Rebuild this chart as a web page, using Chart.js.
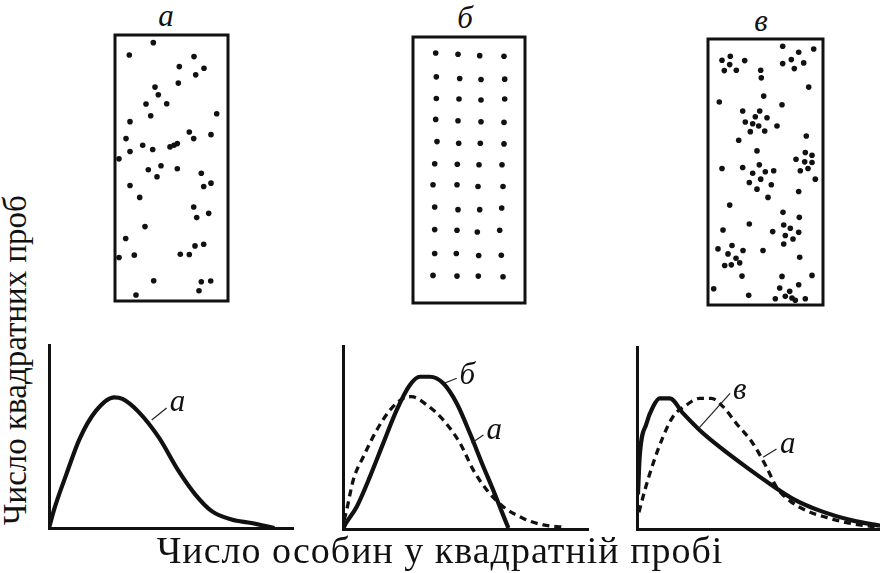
<!DOCTYPE html>
<html>
<head>
<meta charset="utf-8">
<script src="https://cdn.jsdelivr.net/npm/chart.js@4.4.1/dist/chart.umd.min.js"></script>
<style>
    html, body { margin: 0; padding: 0; background: #fff; overflow: hidden; }
    body { width: 880px; height: 573px; position: relative; font-family: "Liberation Serif", "DejaVu Serif", serif; color: #111; }
    .box { position: absolute; }
    .letter { position: absolute; font-style: italic; font-size: 31px; line-height: 1; transform: translateX(-50%); }
    .y-title { position: absolute; left: 15px; top: 360px; font-size: 33px; line-height: 1; white-space: nowrap; transform: translate(-50%, -50%) rotate(-90deg); }
    .x-title { position: absolute; left: 440px; top: 531px; font-size: 38px; letter-spacing: 1px; line-height: 1; white-space: nowrap; transform: translateX(-50%); }
</style>
</head>
<body>

<div class="letter" style="left:166px; top:0px;">а</div>
<div class="letter" style="left:465px; top:2px;">б</div>
<div class="letter" style="left:761px; top:5px;">в</div>

<div class="box" style="left:110px; top:30px; width:123px; height:276px;"><canvas id="plotA"></canvas></div>
<div class="box" style="left:408px; top:32px; width:122px; height:276px;"><canvas id="plotB"></canvas></div>
<div class="box" style="left:703px; top:34px; width:125px; height:276px;"><canvas id="plotC"></canvas></div>

<div class="box" style="left:41px; top:337px; width:260px; height:199px;"><canvas id="distA"></canvas></div>
<div class="box" style="left:335px; top:338px; width:261px; height:199px;"><canvas id="distB"></canvas></div>
<div class="box" style="left:629px; top:339px; width:259px; height:198px;"><canvas id="distC"></canvas></div>

<div class="y-title">Число квадратних проб</div>
<div class="x-title">Число особин у квадратній пробі</div>

<script>
// Individuals in each square plot (x across, y down the plot)
const dotsRandom = [
    [38.3, 7.7], [14.3, 20], [79, 21.7], [64.3, 31.7], [89, 33.3], [80.7, 40], [63.3, 48.3],
    [40, 52.3], [43.3, 60], [31, 69.3], [51.7, 69], [35.7, 81], [101.7, 79], [15, 87],
    [74.3, 97.3], [96, 100], [11, 104], [78.7, 104], [27.7, 110.7], [37.7, 115], [15, 117],
    [55, 112.3], [59, 110.7], [62.3, 109], [4, 124.3], [46, 131.3], [33.3, 135.3], [62.3, 134.3],
    [42, 142.3], [86.3, 138.7], [15, 151], [96, 148.7], [88.7, 152], [24.7, 163], [78.7, 172.7],
    [81.7, 183.3], [93.7, 179], [30, 192.3], [10.7, 204.3], [80, 211.7], [88.7, 210], [4, 223.3],
    [19.3, 221], [65.3, 220], [74.3, 220.3], [38.7, 246.7], [86.3, 247.7], [95.7, 247],
    [84, 256.7], [21, 261]
];

const dotsUniform = [
    [22.7, 16], [45, 17.3], [66.7, 18.7], [91, 19.3],
    [23.3, 40], [46.7, 41.7], [68, 42.7], [91.7, 42.3],
    [23.3, 61.7], [46, 62.3], [68, 63.3], [91.7, 62.3],
    [22.7, 82.7], [45, 84], [68, 85], [91, 85.7],
    [24, 105], [45.7, 106.7], [67.3, 106.7], [91, 107.3],
    [21.7, 127.3], [44.3, 127.7], [66, 128.3], [89, 128.3],
    [20, 148.3], [44, 148.3], [65, 150], [90, 150],
    [21.7, 170.7], [45, 173.3], [66.7, 173.3], [88.7, 171.7],
    [21.7, 193.3], [44, 194], [64.3, 195.7], [86.7, 194],
    [21.7, 217.3], [43.3, 217.3], [65.7, 219.3], [88.3, 219],
    [20, 239.3], [44, 240], [65.3, 240], [90, 240.7]
];

const dotsClumped = [
    [14, 21.3], [22.3, 17.3], [21.7, 25.7], [36.7, 21.7], [16.3, 31.7], [28.3, 31.3],
    [74.7, 7.3], [90.7, 13.3], [105.7, 10], [83.3, 20.7], [74.7, 24.7], [95.7, 24], [86.3, 29.7],
    [52.7, 31.3], [53.3, 39], [100.7, 48.3], [55.7, 57.3], [11.3, 63.3], [74, 66],
    [34.7, 72.3], [51.7, 72.3], [47.3, 78], [59, 79], [37.3, 83.3], [44.7, 85], [50.7, 87.3],
    [69, 87.3], [42.3, 93], [56.7, 92.3], [98.3, 97.3], [30.7, 101.7], [49, 112.3],
    [97.3, 114], [104, 116.7], [88, 120.7], [96.7, 123.3], [104, 124], [100, 130], [92.3, 132.3],
    [14, 130], [34.7, 129], [51.3, 126.3], [44.7, 134.7], [57.3, 133.3], [65.7, 132.3],
    [52.7, 140.7], [41.3, 144], [63.3, 146.3], [49, 150.7], [60, 159], [107.3, 140.7],
    [90.7, 153], [21.7, 166.7], [75, 174], [91.3, 179], [75.7, 186.7], [41.3, 185.7],
    [64.7, 193.3], [82.3, 190], [90.7, 194], [77.3, 197.3], [85, 200.7], [75.7, 205.7],
    [15, 191.7], [24, 207.3], [10, 210.7], [35, 212.3], [20, 215.7], [28, 220], [31.7, 224.7],
    [16.7, 227.3], [23.3, 226.7], [55, 212.3], [91.7, 219], [34, 238], [74, 238.3], [104, 237.3],
    [5.7, 250.7], [71.7, 250], [81.7, 253.3], [90.7, 246.7], [40.7, 257.3], [77.3, 258.3],
    [84, 260], [67.3, 260.7], [97.3, 260.7], [87.3, 262.3]
];

// Frequency curves: [individuals per square, number of squares]
const curveRandomA = [
    [0, 0], [2.3, 11], [7.1, 29.3], [12.5, 48.6], [19.3, 64.1], [26.7, 71.4], [30.1, 70.5],
    [36.9, 63.2], [45, 49.5], [53.1, 31.2], [59.9, 18.4], [66.7, 9.2], [74.8, 4.6],
    [82.9, 2.7], [92.4, 0]
];

const curveUniform = [
    [0, 0], [1.2, 3.1], [5.6, 12.2], [11, 28.6], [16.4, 46.8], [21.9, 65], [27.3, 78.7],
    [31.4, 83.2], [35.5, 83.2], [40.9, 79.6], [46.4, 68.7], [51.8, 52.3], [57.3, 34],
    [61.3, 21.3], [64.8, 9.5], [67.5, 0.5]
];

const curveRandomB = [
    [0.5, 5], [1.5, 10.4], [4.2, 26.8], [8.3, 39.5], [13.8, 54.1], [19.2, 65], [24.6, 71.4],
    [28, 72.3], [34.2, 67.8], [40.9, 59.6], [47.8, 46.8], [53.2, 32.2], [58.7, 21.3],
    [65.4, 12.2], [73.6, 5.8], [81.8, 2.2], [89.9, 1]
];

const curveClumped = [
    [0.4, 19], [1.1, 39.6], [3.9, 58], [6.6, 67.2], [9.3, 71.8], [13.5, 71.8], [19, 63.5],
    [25.8, 54.3], [34, 45.1], [45, 34], [54.6, 24.9], [64.2, 16.6], [75.2, 10.1],
    [88.9, 4.6], [100, 1.8]
];

const curveRandomC = [
    [0.8, 9.2], [3.2, 21.2], [6.6, 35.9], [10.7, 50.6], [14.8, 61.7], [20.3, 68.1],
    [25.8, 71.8], [30.6, 71.8], [35.4, 67.2], [40.9, 58], [47.7, 47], [53.3, 34],
    [57.4, 23], [62.8, 15.6], [69.7, 10.1], [77.9, 6.4], [88.9, 2.8], [100, 0.9]
];

const toPoints = arr => arr.map(([x, y]) => ({ x, y }));

// Thick frame round each plot
const framePlugin = {
    id: 'frame',
    afterDraw: (chart) => {
        const { ctx, chartArea: { left, top, right, bottom } } = chart;
        ctx.save();
        ctx.strokeStyle = '#111';
        ctx.lineWidth = 3;
        ctx.strokeRect(left, top, right - left, bottom - top);
        ctx.restore();
    }
};

// Italic curve letters with a short leader line
const curveLabelPlugin = {
    id: 'curveLabels',
    afterDatasetsDraw: (chart, args, opts) => {
        const { ctx, scales: { x, y } } = chart;
        (opts.items || []).forEach(item => {
            ctx.save();
            ctx.strokeStyle = '#222';
            ctx.lineWidth = 1.2;
            ctx.beginPath();
            ctx.moveTo(x.getPixelForValue(item.from[0]), y.getPixelForValue(item.from[1]));
            ctx.lineTo(x.getPixelForValue(item.to[0]), y.getPixelForValue(item.to[1]));
            ctx.stroke();
            ctx.font = 'italic 31px "Liberation Serif", serif';
            ctx.fillStyle = '#111';
            ctx.textAlign = 'left';
            ctx.textBaseline = 'middle';
            ctx.fillText(item.text, x.getPixelForValue(item.at[0]), y.getPixelForValue(item.at[1]));
            ctx.restore();
        });
    }
};

function makePlot(id, dots, width) {
    return new Chart(document.getElementById(id), {
        type: 'scatter',
        plugins: [framePlugin],
        data: {
            datasets: [{
                data: toPoints(dots),
                pointRadius: 2.8,
                pointBackgroundColor: '#111',
                pointBorderWidth: 0
            }]
        },
        options: {
            responsive: true,
            maintainAspectRatio: false,
            animation: false,
            layout: { padding: 5 },
            plugins: { legend: { display: false }, tooltip: { enabled: false } },
            scales: {
                x: { display: false, min: 0, max: width },
                y: { display: false, min: 0, max: 267, reverse: true }
            }
        }
    });
}

function lineSet(points, dashed) {
    return {
        data: toPoints(points),
        borderColor: '#111',
        borderWidth: dashed ? 3.3 : 4.2,
        borderDash: dashed ? [7, 5] : [],
        pointRadius: 0,
        cubicInterpolationMode: 'monotone',
        fill: false
    };
}

function makeDist(id, datasets, labels) {
    const axis = {
        type: 'linear',
        min: 0,
        max: 100,
        grid: { display: false, drawTicks: false },
        ticks: { display: false },
        border: { display: true, width: 3, color: '#111' }
    };
    return new Chart(document.getElementById(id), {
        type: 'line',
        plugins: [curveLabelPlugin],
        data: { datasets },
        options: {
            responsive: true,
            maintainAspectRatio: false,
            animation: false,
            layout: { padding: 8 },
            plugins: {
                legend: { display: false },
                tooltip: { enabled: false },
                curveLabels: { items: labels }
            },
            scales: {
                x: { ...axis, afterFit: s => { s.height = 0; } },
                y: { ...axis, afterFit: s => { s.width = 0; } }
            }
        }
    });
}

makePlot('plotA', dotsRandom, 113);
makePlot('plotB', dotsUniform, 112);
makePlot('plotC', dotsClumped, 115);

makeDist('distA', [lineSet(curveRandomA, false)], [
    { text: 'а', from: [42.1, 59], to: [48.2, 65.6], at: [49.5, 68.5] }
]);

makeDist('distB', [lineSet(curveUniform, false), lineSet(curveRandomB, true)], [
    { text: 'б', from: [41.6, 79.8], to: [46.4, 82.4], at: [47.5, 83.5] },
    { text: 'а', from: [52.5, 47], to: [57.3, 51.4], at: [58.6, 53.5] }
]);

makeDist('distC', [lineSet(curveClumped, false), lineSet(curveRandomC, true)], [
    { text: 'в', from: [25.3, 55.2], to: [38.3, 74.5], at: [39.5, 76] },
    { text: 'а', from: [51.9, 39.4], to: [57.4, 44], at: [58.8, 46.5] }
]);
</script>
</body>
</html>
